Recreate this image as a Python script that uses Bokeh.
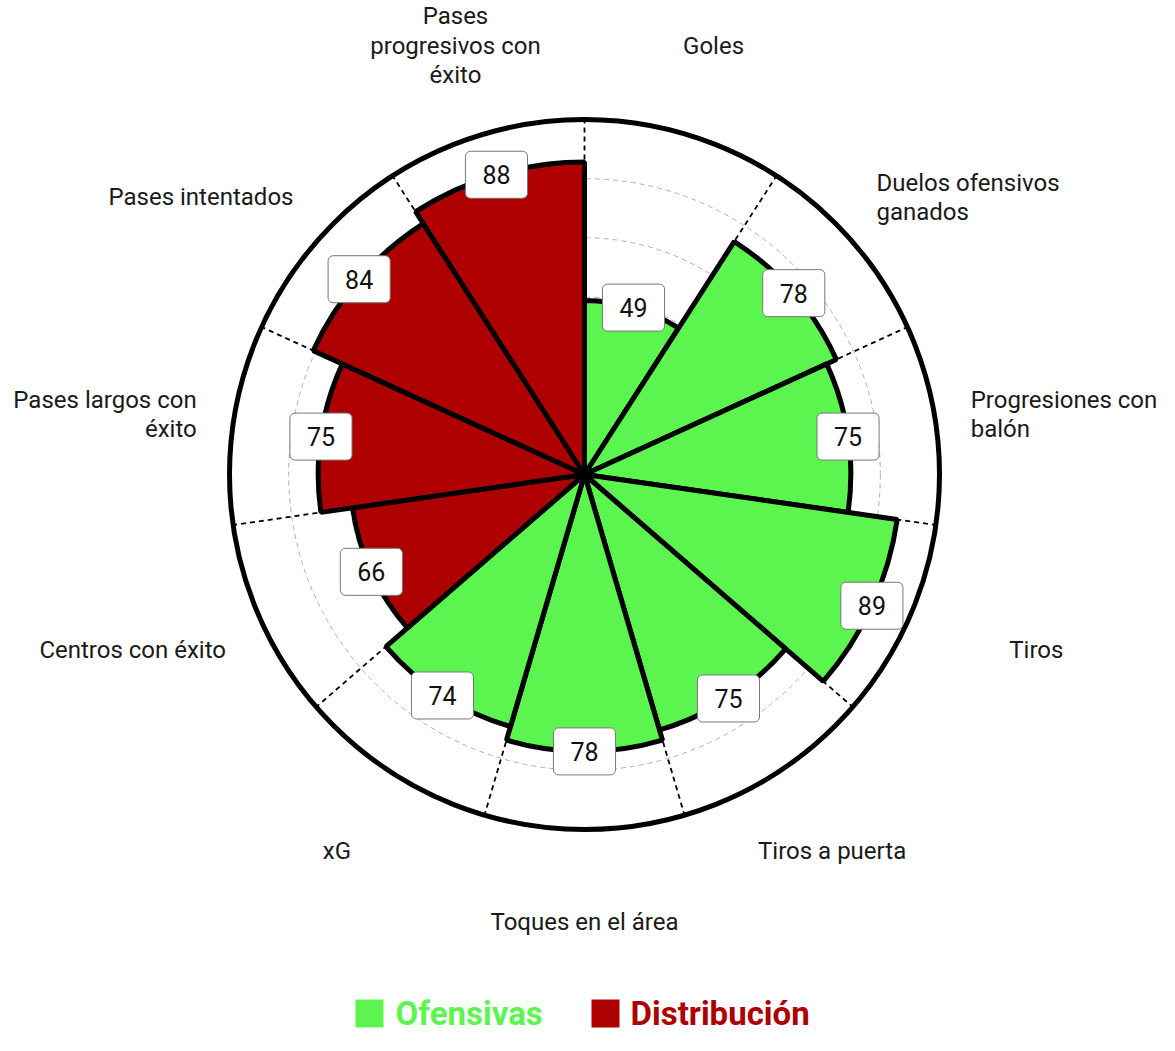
import numpy as np
from bokeh.plotting import figure
from bokeh.models import Range1d, ColumnDataSource
from bokeh.core.properties import value, field
from bokeh.embed import file_html
from bokeh.resources import INLINE

# ---- data ----
categories = ["Goles", "Duelos ofensivos\nganados", "Progresiones con\nbalón", "Tiros",
              "Tiros a puerta", "Toques en el área", "xG", "Centros con éxito",
              "Pases largos con\néxito", "Pases intentados", "Pases\nprogresivos con\néxito"]
values = [49, 78, 75, 89, 75, 78, 74, 66, 75, 84, 88]
groups = ["Ofensivas"] * 7 + ["Distribución"] * 4
group_names = ["Ofensivas", "Distribución"]
group_colors = ["#5CF54F", "#AE0000"]
grid_levels = [100 / 6 * k for k in range(1, 6)]
max_value = 100

# ---- layout ----
W, H = 1159, 1035
S = 3.55            # px per unit
CX, CY = 584, 474   # centre in figure px

p = figure(width=W, height=H, x_range=Range1d(-CX / S, (W - CX) / S),
           y_range=Range1d(-(H - CY) / S, CY / S), output_backend="svg",
           toolbar_location=None, x_axis_type=None, y_axis_type=None, min_border=0)
p.grid.visible = False
p.outline_line_color = None
p.background_fill_color = "white"

n = len(values)
w = 2 * np.pi / n
ends = np.pi / 2 - np.arange(n) * w
starts = ends - w
mids = ends - w / 2
cmap = dict(zip(group_names, group_colors))
colors = [cmap[g] for g in groups]

# grid circles
p.circle(x=[0] * len(grid_levels), y=[0] * len(grid_levels), radius=grid_levels,
         fill_color=None, line_color="#b0b0b0", line_dash="5 4", line_width=1)
# spokes
p.segment(x0=0, y0=0, x1=max_value * np.cos(ends), y1=max_value * np.sin(ends),
          line_color="black", line_dash="5 4", line_width=1.8)
# outer circle
p.circle(x=[0], y=[0], radius=[max_value], fill_color=None, line_color="black", line_width=5)

src = ColumnDataSource(dict(start=starts, end=ends, r=values, color=colors))
p.wedge(x=0, y=0, radius="r", start_angle="start", end_angle="end", source=src,
        fill_color="color", line_color="black", line_width=5)

# value boxes
vsrc = ColumnDataSource(dict(x=np.array(values) * np.cos(mids), y=np.array(values) * np.sin(mids),
                             t=[str(v) for v in values]))
p.text(x="x", y="y", text="t", source=vsrc, text_font=value("Roboto"), text_font_size="25px",
       text_color="#111111", text_align="center", text_baseline="middle",
       anchor=value("center"), background_fill_color="white", border_line_color="#777777",
       border_line_width=1, border_radius=5, padding=(17, 14))

# category labels placed around the pizza
c, s = np.cos(mids), np.sin(mids)
steep = np.abs(s) > 0.7
A = np.where(steep, 458, 478 + 45 * np.abs(s)) / S
B = np.where(steep, 447, 423) / S
aligns = ["left" if ci > 0.3 else ("right" if ci < -0.3 else "center") for ci in c]
lsrc = ColumnDataSource(dict(x=A * c, y=B * s, t=categories, a=aligns))
p.text(x="x", y="y", text="t", source=lsrc, text_font=value("Roboto"), text_font_size="24px",
       text_color="#1a1a1a", text_align=field("a"), text_baseline="middle",
       anchor=value("center"), text_line_height=1.05)

# legend
leg_y = (CY - 1013) / S
sq_x = [(369 - CX) / S, (605 - CX) / S]
tx_x = [(395 - CX) / S, (630 - CX) / S]
p.scatter(x=sq_x, y=[leg_y] * 2, marker="square", size=28, fill_color=group_colors,
          line_color=None)
p.text(x=tx_x, y=[leg_y] * 2, text=group_names, text_font=value("Roboto"),
       text_font_size="33px", text_font_style="bold", text_color=group_colors,
       text_align="left", text_baseline="middle")

open("out.html", "w").write(file_html(p, INLINE))
